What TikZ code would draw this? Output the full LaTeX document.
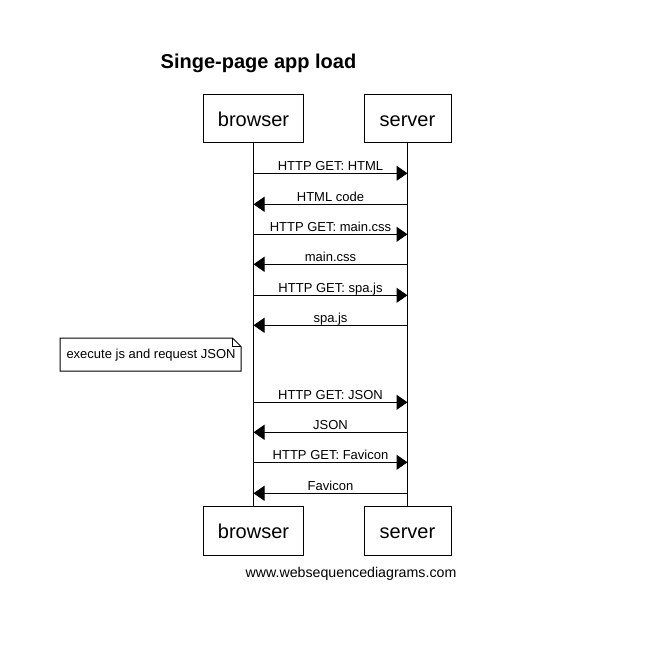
\documentclass[tikz,border=0pt]{standalone}
\usepackage{fontspec}
\setmainfont{Liberation Sans}
\usepackage{tikz}
\usetikzlibrary{arrows.meta}

\tikzset{
  actor/.style={draw,inner sep=0pt,minimum height=48.5pt,text height=16pt,text depth=0pt,font=\fontsize{20}{24}\selectfont},
  msg/.style={anchor=base,inner sep=0pt,yshift=2.5pt,font=\fontsize{13}{15}\selectfont},
  call/.style={->},
}

\begin{document}
\begin{tikzpicture}[line cap=butt,line join=miter,>={Triangle[length=11pt,width=15pt]},x=1pt,y=-1pt,line width=1pt]
\useasboundingbox (0,0) rectangle (665,651);
% title
\node[font=\fontsize{20}{24}\selectfont\bfseries] (title) at (258.5,63.5) {Singe-page app load};
% participants
\node[actor,minimum width=100pt] (browser) at (253.5,118.5) {browser};
\node[actor,minimum width=87pt] (server) at (407.5,118.5) {server};
\node[actor,minimum width=100pt] (browserB) at (253.5,530.8) {browser};
\node[actor,minimum width=87pt] (serverB) at (407.5,530.8) {server};
% lifelines
\draw (browser.south) -- (browserB.north);
\draw (server.south) -- (serverB.north);
% message ends
\coordinate (b1) at (253.5,173.3); \coordinate (s1) at (407.5,173.3);
\coordinate (b2) at (253.5,204.3); \coordinate (s2) at (407.5,204.3);
\coordinate (b3) at (253.5,234.3); \coordinate (s3) at (407.5,234.3);
\coordinate (b4) at (253.5,264.3); \coordinate (s4) at (407.5,264.3);
\coordinate (b5) at (253.5,295.3); \coordinate (s5) at (407.5,295.3);
\coordinate (b6) at (253.5,325.3); \coordinate (s6) at (407.5,325.3);
\coordinate (b7) at (253.5,402.3); \coordinate (s7) at (407.5,402.3);
\coordinate (b8) at (253.5,432.3); \coordinate (s8) at (407.5,432.3);
\coordinate (b9) at (253.5,462.3); \coordinate (s9) at (407.5,462.3);
\coordinate (b10) at (253.5,493.3); \coordinate (s10) at (407.5,493.3);
% messages
\draw[call] (b1) -- node[msg] {HTTP GET: HTML} (s1);
\draw[call] (s2) -- node[msg] {HTML code} (b2);
\draw[call] (b3) -- node[msg] {HTTP GET: main.css} (s3);
\draw[call] (s4) -- node[msg] {main.css} (b4);
\draw[call] (b5) -- node[msg] {HTTP GET: spa.js} (s5);
\draw[call] (s6) -- node[msg] {spa.js} (b6);
\draw[call] (b7) -- node[msg] {HTTP GET: JSON} (s7);
\draw[call] (s8) -- node[msg] {JSON} (b8);
\draw[call] (b9) -- node[msg] {HTTP GET: Favicon} (s9);
\draw[call] (s10) -- node[msg] {Favicon} (b10);
% note
\node[anchor=west,inner sep=0pt,font=\fontsize{13}{15}\selectfont] (note) at (66,355) {execute js and request JSON};
\draw (60,338) -- (232.5,338) -- (241,346.5) -- (241,371) -- (60,371) -- cycle;
\draw (232.5,338) -- (232.5,346.5) -- (241,346.5);
% footer
\node[font=\fontsize{14.2}{17}\selectfont] (footer) at (351,574) {www.websequencediagrams.com};
\end{tikzpicture}
\end{document}
